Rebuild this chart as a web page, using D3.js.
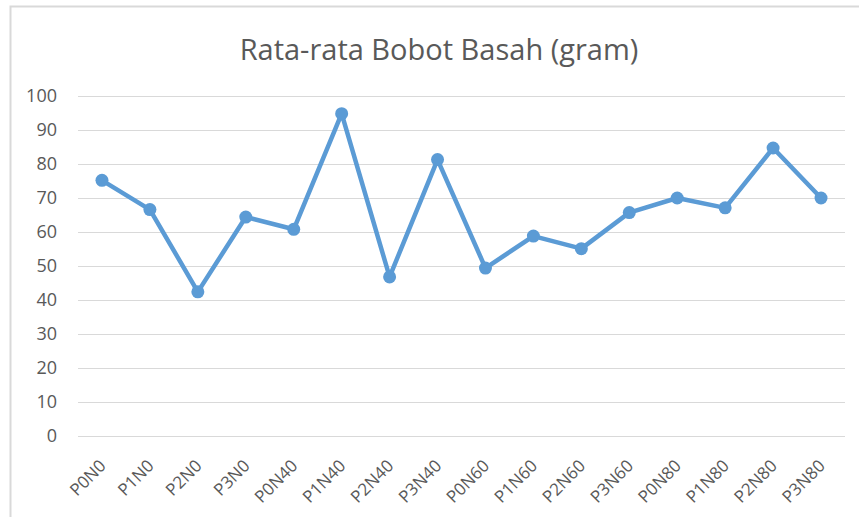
<!DOCTYPE html>
<html>
<head>
<meta charset="utf-8">
<script src="https://cdn.jsdelivr.net/npm/d3@7"></script>
<style>
  html, body { margin: 0; padding: 0; background: #fff; }
  svg { display: block; }
  text { font-family: "Open Sans", "Noto Sans", sans-serif; fill: #595959; }
</style>
</head>
<body>
<svg id="chart" width="859" height="517"></svg>
<script>
const title = "Rata-rata Bobot Basah (gram)";
const categories = ["P0N0","P1N0","P2N0","P3N0","P0N40","P1N40","P2N40","P3N40","P0N60","P1N60","P2N60","P3N60","P0N80","P1N80","P2N80","P3N80"];
const values = [75.2, 66.6, 42.4, 64.4, 60.8, 94.8, 46.8, 81.3, 49.4, 58.8, 55.1, 65.7, 70.0, 67.1, 84.7, 70.0];
const yTicks = [0,10,20,30,40,50,60,70,80,90,100];

const svg = d3.select("#chart");
const W = 859, H = 517;
const margin = {left: 78, right: 14, top: 96, bottom: 81};

// chart area border (top + left visible)
svg.append("rect").attr("x", 10.5).attr("y", 6.5).attr("width", 880).attr("height", 540)
  .attr("fill", "none").attr("stroke", "#d9d9d9").attr("stroke-width", 2);

const x = d3.scaleBand().domain(categories).range([margin.left, W - margin.right]);
const y = d3.scaleLinear().domain([0, 100]).range([H - margin.bottom, margin.top]);

// gridlines
svg.append("g")
  .attr("transform", `translate(${margin.left},0)`)
  .call(d3.axisLeft(y).tickValues(yTicks).tickSize(-(W - margin.left - margin.right)).tickFormat(""))
  .call(g => g.select(".domain").remove())
  .call(g => g.selectAll("line").attr("stroke", "#d9d9d9").attr("stroke-width", 1));

// y labels
svg.append("g")
  .attr("transform", `translate(${margin.left},0)`)
  .call(d3.axisLeft(y).tickValues(yTicks).tickSize(0).tickPadding(21))
  .call(g => g.select(".domain").remove())
  .call(g => g.selectAll("text").attr("font-size", 18).style("font-family", '"Open Sans", sans-serif').attr("fill", "#595959"));

// x labels
svg.append("g")
  .attr("transform", `translate(0,${H - margin.bottom})`)
  .call(d3.axisBottom(x).tickSize(0).tickPadding(0))
  .call(g => g.select(".domain").remove())
  .call(g => g.selectAll("text")
    .attr("font-size", 17)
    .style("font-family", '"Open Sans", sans-serif')
    .attr("fill", "#595959")
    .attr("text-anchor", "end")
    .attr("dy", null)
    .attr("y", 0)
    .attr("transform", "translate(5,31) rotate(-45)"));

// line
const line = d3.line()
  .x((d, i) => x(categories[i]) + x.bandwidth() / 2)
  .y(d => y(d));

svg.append("path").datum(values)
  .attr("d", line)
  .attr("fill", "none")
  .attr("stroke", "#5b9bd5")
  .attr("stroke-width", 4.5)
  .attr("stroke-linejoin", "round");

svg.append("g").selectAll("circle").data(values).join("circle")
  .attr("cx", (d, i) => x(categories[i]) + x.bandwidth() / 2)
  .attr("cy", d => y(d))
  .attr("r", 6.5)
  .attr("fill", "#5b9bd5");

// title
svg.append("text")
  .attr("x", 439).attr("y", 60)
  .attr("text-anchor", "middle")
  .attr("font-size", 29)
  .style("font-family", '"Open Sans", sans-serif')
  .attr("fill", "#595959")
  .text(title);
</script>
</body>
</html>
